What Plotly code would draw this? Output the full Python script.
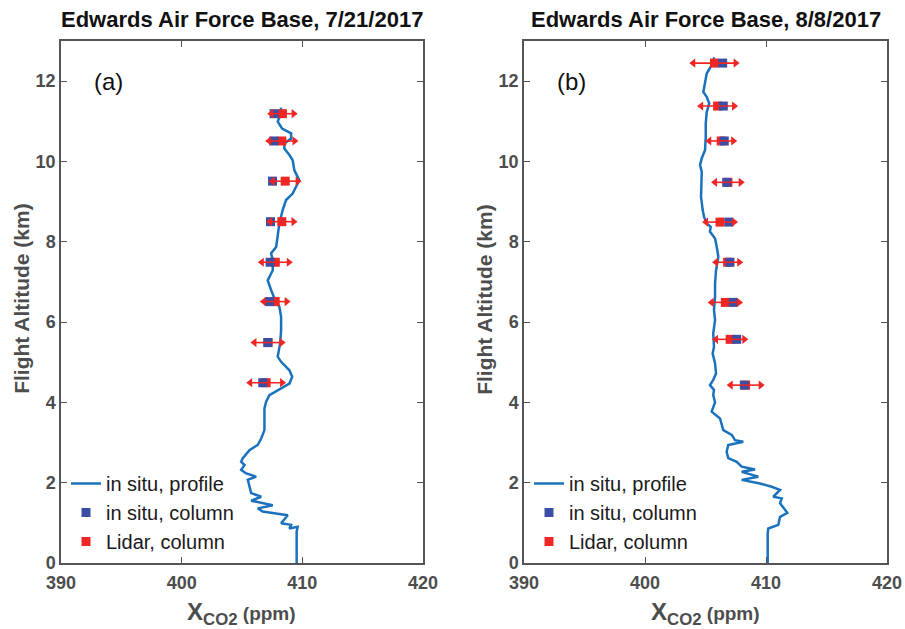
import plotly.graph_objects as go

# ---------------- data ----------------
# Panel (a) in situ profile: (XCO2 ppm, altitude km)
prof_a_x = [408.24, 408.16, 407.96, 408.32, 409.07, 409.07, 408.51, 408.51, 408.93, 409.20,
            409.34, 409.75, 409.48, 409.20, 408.65, 408.37, 408.10, 407.96, 407.83, 407.41,
            407.55, 407.55, 407.13, 407.41, 407.69, 408.10, 408.24, 408.24, 408.16, 407.96,
            408.24, 408.93, 409.16, 408.93, 407.96, 407.27, 407.00, 406.86, 406.86, 406.59,
            406.31, 405.62, 405.07, 404.93, 405.21, 404.93, 405.35, 406.17, 405.48, 405.62,
            405.76, 406.59, 405.76, 407.55, 406.31, 406.72, 408.79, 408.24, 409.07, 408.93,
            409.61, 409.53, 409.53]
prof_a_y = [11.34, 11.15, 10.99, 10.82, 10.70, 10.57, 10.45, 10.32, 10.16, 10.03,
            9.78, 9.53, 9.37, 9.20, 9.04, 8.79, 8.46, 8.21, 7.87, 7.71,
            7.54, 7.29, 7.04, 6.80, 6.59, 6.38, 6.13, 5.80, 5.47, 5.14,
            5.01, 4.80, 4.64, 4.47, 4.31, 4.18, 4.02, 3.85, 3.31, 3.10,
            2.94, 2.81, 2.61, 2.52, 2.44, 2.32, 2.23, 2.15, 2.07, 1.90,
            1.74, 1.65, 1.55, 1.44, 1.36, 1.28, 1.19, 0.99, 0.95, 0.86,
            0.90, 0.78, 0.0]

# Panel (b) in situ profile
prof_b_x = [405.73, 405.51, 405.10, 404.96, 404.82, 405.10, 405.31, 405.10, 405.02, 405.02,
            404.96, 404.69, 404.55, 404.69, 404.69, 404.63, 404.77, 404.88, 405.10, 405.43,
            405.37, 405.79, 405.93, 406.06, 405.87, 405.79, 405.79, 405.70, 405.79, 405.64,
            405.70, 405.59, 405.79, 405.87, 405.64, 405.37, 405.70, 405.64, 405.79, 405.51,
            406.20, 406.47, 407.17, 407.44, 408.12, 406.88, 406.75, 406.88, 407.58, 407.99,
            409.09, 407.99, 409.36, 407.99, 409.50, 410.47, 411.16, 410.60, 411.30, 411.16,
            411.76, 411.16, 411.02, 410.19, 410.14, 410.14]
prof_b_y = [12.59, 12.40, 12.19, 11.94, 11.73, 11.61, 11.44, 11.23, 10.95, 10.61,
            10.28, 10.08, 9.91, 9.74, 9.45, 9.12, 8.79, 8.62, 8.46, 8.37,
            8.25, 8.08, 7.87, 7.63, 7.29, 6.96, 6.63, 6.30, 6.05, 5.72,
            5.38, 5.22, 4.97, 4.72, 4.56, 4.43, 4.31, 4.18, 4.00, 3.77,
            3.60, 3.31, 3.19, 3.06, 3.02, 2.94, 2.77, 2.61, 2.52, 2.40,
            2.33, 2.27, 2.15, 2.07, 1.98, 1.90, 1.82, 1.65, 1.61, 1.49,
            1.25, 1.15, 0.95, 0.86, 0.74, 0.0]

# Column values, panel (a)
alt_a = [11.19, 10.51, 9.51, 8.50, 7.49, 6.51, 5.49, 4.49]
insitu_col_a = [407.66, 407.63, 407.53, 407.36, 407.33, 407.27, 407.14, 406.72]
lidar_col_a = [408.35, 408.30, 408.58, 408.30, 407.76, 407.75, 407.16, 407.00]
lidar_err_a = [0.93, 1.05, 1.03, 0.97, 1.12, 0.95, 1.13, 1.32]

# Column values, panel (b)
alt_b = [12.45, 11.38, 10.51, 9.48, 8.49, 7.49, 6.49, 5.57, 4.43]
insitu_col_b = [406.42, 406.47, 406.55, 406.75, 406.94, 407.02, 407.30, 407.58, 408.21]
lidar_col_b = [405.74, 406.00, 406.30, 406.85, 406.20, 406.83, 406.64, 407.04, 408.32]
lidar_err_b = [1.75, 1.36, 0.99, 1.06, 1.16, 0.96, 1.13, 1.17, 1.24]

titles = ["Edwards Air Force Base, 7/21/2017", "Edwards Air Force Base, 8/8/2017"]
panel_labels = ["(a)", "(b)"]
x_ticks = [390, 400, 410, 420]
y_ticks = [0, 2, 4, 6, 8, 10, 12]

# ---------------- style ----------------
BLUE_LINE = "#1A72BD"
BLUE_SQ = "#3A4FA3"
RED = "#EE2624"
AXC = "#555555"
TICKC = "#4d4d4d"
FONT = "Liberation Sans, Arial, sans-serif"

fig = go.Figure()

panels = [
    dict(px=prof_a_x, py=prof_a_y, alt=alt_a, ins=insitu_col_a, lid=lidar_col_a, err=lidar_err_a,
         xa="x", ya="y", legend="legend"),
    dict(px=prof_b_x, py=prof_b_y, alt=alt_b, ins=insitu_col_b, lid=lidar_col_b, err=lidar_err_b,
         xa="x2", ya="y2", legend="legend2"),
]

for p in panels:
    fig.add_trace(go.Scatter(x=p["px"], y=p["py"], mode="lines", name="in situ, profile",
                             line=dict(color=BLUE_LINE, width=2.5), xaxis=p["xa"], yaxis=p["ya"],
                             legend=p["legend"], legendgroup="a"))
    fig.add_trace(go.Scatter(x=p["lid"], y=p["alt"], mode="markers", name="Lidar, column",
                             marker=dict(symbol="square", size=9, color=RED),
                             xaxis=p["xa"], yaxis=p["ya"], showlegend=False))
    fig.add_trace(go.Scatter(x=p["ins"], y=p["alt"], mode="markers", name="in situ, column",
                             marker=dict(symbol="square", size=9, color=BLUE_SQ),
                             xaxis=p["xa"], yaxis=p["ya"], legend=p["legend"], legendgroup="b"))
    fig.add_trace(go.Scatter(x=p["lid"], y=p["alt"], mode="markers", name="Lidar, column",
                             marker=dict(symbol="square", size=9, color=RED, opacity=0),
                             error_x=dict(type="data", array=p["err"], color=RED, thickness=1.6, width=0),
                             xaxis=p["xa"], yaxis=p["ya"], showlegend=False))
    left_end = [v - e for v, e in zip(p["lid"], p["err"])]
    right_end = [v + e for v, e in zip(p["lid"], p["err"])]
    fig.add_trace(go.Scatter(x=left_end, y=p["alt"], mode="markers",
                             marker=dict(symbol="triangle-left", size=8, color=RED),
                             xaxis=p["xa"], yaxis=p["ya"], showlegend=False, hoverinfo="skip"))
    fig.add_trace(go.Scatter(x=right_end, y=p["alt"], mode="markers",
                             marker=dict(symbol="triangle-right", size=8, color=RED),
                             xaxis=p["xa"], yaxis=p["ya"], showlegend=False, hoverinfo="skip"))
    # legend-only entry for Lidar
    fig.add_trace(go.Scatter(x=[None], y=[None], mode="markers", name="Lidar, column",
                             marker=dict(symbol="square", size=9, color=RED),
                             xaxis=p["xa"], yaxis=p["ya"], legend=p["legend"], legendgroup="c"))

dom_a = [61 / 905, 423 / 905]
dom_b = [524 / 905, 887 / 905]
dom_y = [(629 - 563) / 629, (629 - 41) / 629]

axis_common = dict(
    showline=True, linecolor=AXC, linewidth=1.5, mirror="ticks",
    ticks="inside", ticklen=6, tickcolor=AXC, tickwidth=1.3,
    showgrid=False, zeroline=False, automargin=False,
    tickfont=dict(family=FONT, size=18, color=TICKC, weight="bold"),
)

legend_common = dict(xanchor="left", yanchor="top", bgcolor="rgba(0,0,0,0)",
                     traceorder="grouped", tracegroupgap=0,
                     font=dict(family=FONT, size=20, color="#1a1a1a"))

fig.update_layout(
    template="none",
    width=905, height=629,
    margin=dict(l=0, r=0, t=0, b=0, autoexpand=False),
    paper_bgcolor="white", plot_bgcolor="white",
    showlegend=True,
    xaxis=dict(domain=dom_a, range=[390, 420], tickvals=x_ticks, anchor="y",
               ticklabelstandoff=3, **axis_common),
    yaxis=dict(domain=dom_y, range=[0, 13], tickvals=y_ticks, anchor="x", **axis_common),
    xaxis2=dict(domain=dom_b, range=[390, 420], tickvals=x_ticks, anchor="y2",
                ticklabelstandoff=3, **axis_common),
    yaxis2=dict(domain=dom_y, range=[0, 13], tickvals=y_ticks, anchor="x2", **axis_common),
    legend=dict(x=66 / 905, y=(629 - 464) / 629, **legend_common),
    legend2=dict(x=529 / 905, y=(629 - 464) / 629, **legend_common),
)

anns = []
for i, (t, lab, dom) in enumerate(zip(titles, panel_labels, [dom_a, dom_b])):
    xc = (dom[0] + dom[1]) / 2
    anns.append(dict(text=t, x=xc, y=1 - 20 / 629, xref="paper", yref="paper",
                     showarrow=False, xanchor="center", yanchor="middle",
                     font=dict(family=FONT, size=22, color="#111111", weight="bold")))
    anns.append(dict(text=lab, x=393.9, y=12.0, xref="x" if i == 0 else "x2",
                     yref="y" if i == 0 else "y2", showarrow=False,
                     font=dict(family=FONT, size=24, color="#111111")))
    anns.append(dict(text="X<sub>CO2</sub><span style='font-size:19px'> (ppm)</span>",
                     x=xc, y=1 - 613 / 629, xref="paper", yref="paper", showarrow=False,
                     xanchor="center", yanchor="middle",
                     font=dict(family=FONT, size=24, color=TICKC, weight="bold")))
    anns.append(dict(text="Flight Altitude (km)", textangle=-90,
                     x=(dom[0] * 905 - 39) / 905, y=(dom_y[0] + dom_y[1]) / 2 + 0.005,
                     xref="paper", yref="paper", showarrow=False,
                     xanchor="center", yanchor="middle",
                     font=dict(family=FONT, size=21, color=TICKC, weight="bold")))
fig.update_layout(annotations=anns)

fig.write_html("out.html")
